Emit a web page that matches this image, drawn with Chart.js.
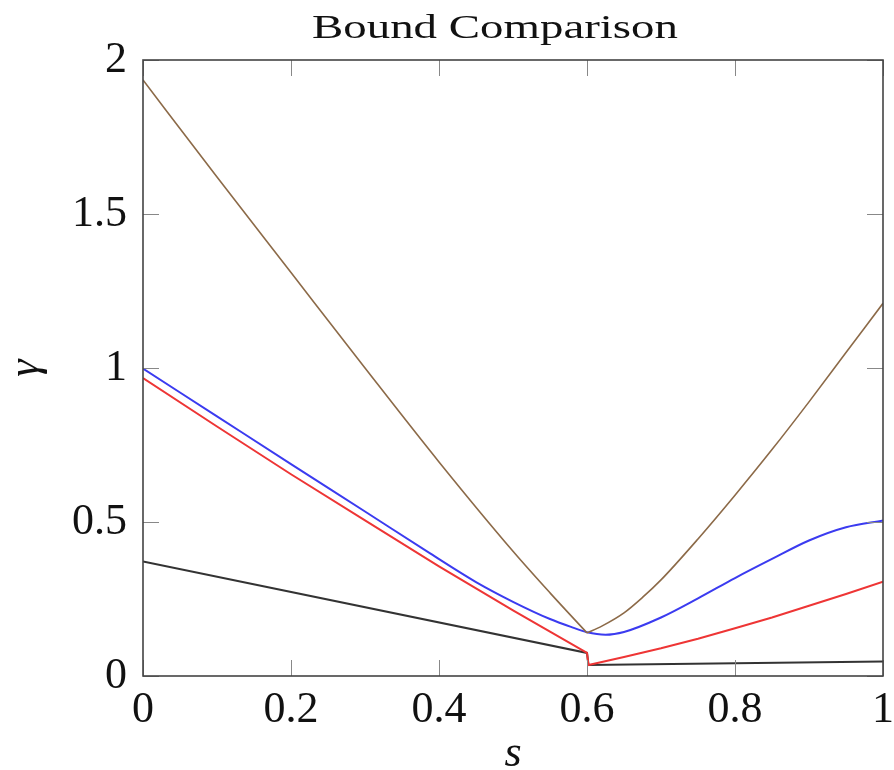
<!DOCTYPE html>
<html>
<head>
<meta charset="utf-8">
<script src="https://cdn.jsdelivr.net/npm/chart.js@4.4.1/dist/chart.umd.min.js"></script>
<style>
  html, body { margin: 0; padding: 0; background: #fff; }
  #wrap { width: 894px; height: 770px; }
</style>
</head>
<body>
<div id="wrap"><canvas id="boundChart"></canvas></div>
<script>
// values
const blackS = [0, 0.6, 0.602, 1];
const blackG = [0.372, 0.075, 0.036, 0.047];

const redS = [0, 0.1, 0.2, 0.3, 0.4, 0.5, 0.55, 0.6, 0.602, 0.65, 0.7, 0.75, 0.8, 0.85, 0.9, 0.95, 1];
const redG = [0.967, 0.81, 0.655, 0.505, 0.356, 0.213, 0.144, 0.075, 0.036, 0.062, 0.09, 0.121, 0.155, 0.19, 0.228, 0.266, 0.306];

const blueS = [0, 0.1, 0.2, 0.3, 0.388, 0.45, 0.5, 0.55, 0.58, 0.6, 0.625, 0.65, 0.7, 0.75, 0.8, 0.85, 0.9, 0.95, 1];
const blueG = [0.998, 0.843, 0.688, 0.534, 0.398, 0.305, 0.241, 0.185, 0.158, 0.142, 0.134, 0.143, 0.19, 0.252, 0.318, 0.38, 0.44, 0.483, 0.505];

const brownS = [0, 0.1, 0.2, 0.3, 0.4, 0.5, 0.55, 0.6, 0.62, 0.65, 0.675, 0.7, 0.75, 0.8, 0.85, 0.9, 0.95, 1];
const brownG = [1.935, 1.62, 1.31, 1.0, 0.695, 0.405, 0.27, 0.14, 0.162, 0.205, 0.255, 0.312, 0.445, 0.587, 0.735, 0.89, 1.05, 1.21];
const brownApex = brownS.indexOf(0.6);

const xTicks = [0, 0.2, 0.4, 0.6, 0.8, 1];
const yTicks = [0, 0.5, 1, 1.5, 2];

const pts = (s, g) => s.map((v, i) => ({ x: v, y: g[i] }));
const serif = "'Liberation Serif', 'DejaVu Serif', serif";

// pgfplots style frame with inward ticks on all four sides
const framePlugin = {
  id: 'frame',
  afterDatasetsDraw(chart) {
    const { ctx, chartArea: a, scales: { x, y } } = chart;
    const len = 16;
    ctx.save();
    ctx.strokeStyle = '#888';
    ctx.lineWidth = 1;
    ctx.beginPath();
    xTicks.forEach(t => {
      const px = Math.round(x.getPixelForValue(t)) + 0.5;
      ctx.moveTo(px, a.bottom); ctx.lineTo(px, a.bottom - len);
      ctx.moveTo(px, a.top); ctx.lineTo(px, a.top + len);
    });
    yTicks.forEach(t => {
      const py = Math.round(y.getPixelForValue(t)) + 0.5;
      ctx.moveTo(a.left, py); ctx.lineTo(a.left + len, py);
      ctx.moveTo(a.right, py); ctx.lineTo(a.right - len, py);
    });
    ctx.stroke();
    ctx.strokeStyle = '#444';
    ctx.lineWidth = 1.6;
    ctx.strokeRect(a.left, a.top, a.right - a.left, a.bottom - a.top);
    ctx.restore();
  }
};

const titlePlugin = {
  id: 'plotTitle',
  afterDraw(chart) {
    const { ctx } = chart;
    const text = 'Bound Comparison';
    ctx.save();
    ctx.font = '34px ' + serif;
    ctx.fillStyle = '#111';
    ctx.textAlign = 'center';
    ctx.textBaseline = 'alphabetic';
    const w = ctx.measureText(text).width;
    ctx.translate(495, 38);
    ctx.scale(366 / w, 1);
    ctx.fillText(text, 0, 0);
    ctx.restore();
  }
};

const brown = { borderColor: '#8c6a48', borderWidth: 1.6, cubicInterpolationMode: 'monotone' };

new Chart(document.getElementById('boundChart'), {
  type: 'line',
  data: {
    datasets: [
      // brown bound has a sharp corner at its minimum, so each side is drawn on its own
      { ...brown, data: pts(brownS.slice(0, brownApex + 1), brownG.slice(0, brownApex + 1)) },
      { ...brown, data: pts(brownS.slice(brownApex), brownG.slice(brownApex)) },
      { data: pts(blueS, blueG), borderColor: '#3b3bf0', borderWidth: 2, cubicInterpolationMode: 'monotone' },
      { data: pts(redS, redG), borderColor: '#ee3535', borderWidth: 2, tension: 0 },
      { data: pts(blackS, blackG), borderColor: '#333333', borderWidth: 2, tension: 0 }
    ]
  },
  options: {
    responsive: true,
    maintainAspectRatio: false,
    animation: false,
    elements: { point: { radius: 0 } },
    layout: { padding: { top: 60, right: 11, left: 0, bottom: 0 } },
    plugins: {
      legend: { display: false },
      tooltip: { enabled: false },
      title: { display: false }
    },
    scales: {
      x: {
        type: 'linear',
        min: 0,
        max: 1,
        afterBuildTicks: s => { s.ticks = xTicks.map(v => ({ value: v })); },
        afterFit: s => { s.height = 94; s.paddingLeft = 0; s.paddingRight = 0; },
        grid: { display: false },
        border: { display: false },
        ticks: {
          color: '#111',
          font: { family: serif, size: 44 },
          padding: 0,
          maxRotation: 0,
          callback: v => String(v)
        },
        title: {
          display: true,
          text: 's',
          color: '#111',
          font: { family: serif, size: 44, style: 'italic', lineHeight: 0.7 },
          padding: 0
        }
      },
      y: {
        type: 'linear',
        min: 0,
        max: 2,
        afterBuildTicks: s => { s.ticks = yTicks.map(v => ({ value: v })); },
        afterFit: s => { s.width = 143; s.paddingTop = 0; s.paddingBottom = 0; },
        grid: { display: false },
        border: { display: false },
        ticks: {
          color: '#111',
          font: { family: serif, size: 44 },
          padding: 8,
          callback: v => String(v)
        },
        title: {
          display: true,
          text: 'γ',
          color: '#111',
          font: { family: serif, size: 44, style: 'italic', lineHeight: 1 },
          padding: { top: 4, bottom: 0 }
        }
      }
    }
  },
  plugins: [framePlugin, titlePlugin]
});
</script>
</body>
</html>
